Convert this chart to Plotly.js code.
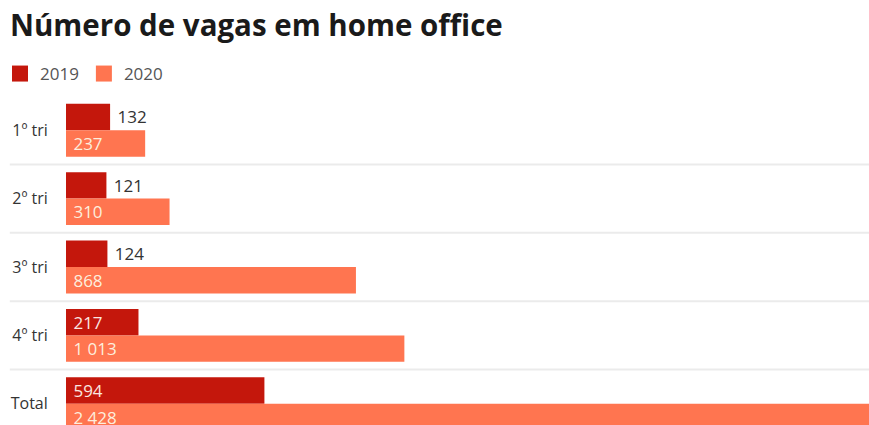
<!DOCTYPE html>
<html><head><meta charset="utf-8">
<script src="https://cdn.plot.ly/plotly-3.0.1.min.js"></script>
<style>html,body{margin:0;padding:0;background:#fff}#chart{width:869px;height:425px}</style>
</head><body><div id="chart"></div>
<script>
const categories = ['1º tri', '2º tri', '3º tri', '4º tri', 'Total'];
const values2019 = [132, 121, 124, 217, 594];
const values2020 = [237, 310, 868, 1013, 2428];
const seriesNames = ['2019', '2020'];
const labelPos2019 = ['outside', 'outside', 'outside', 'inside', 'inside'];

const C2019 = '#c4170c', C2020 = '#ff7550';
const FONT = '"Open Sans", sans-serif';

const barCommon = {
  type: 'bar', orientation: 'h', y: categories,
  texttemplate: '\u00a0%{x:,.0f}', insidetextanchor: 'start', constraintext: 'none',
  textangle: 0, showlegend: false, hoverinfo: 'skip', cliponaxis: true
};
const traces = [
  Object.assign({}, barCommon, {
    name: seriesNames[0], x: values2019, marker: {color: C2019},
    textposition: labelPos2019,
    insidetextfont: {family: FONT, size: 17, color: '#fbe6e0'},
    outsidetextfont: {family: FONT, size: 17, color: '#333333'}
  }),
  Object.assign({}, barCommon, {
    name: seriesNames[1], x: values2020, marker: {color: C2020},
    textposition: 'inside',
    insidetextfont: {family: FONT, size: 17, color: '#fdeedd'}
  }),
  {type: 'scatter', mode: 'markers', x: [null], y: [null], name: seriesNames[0],
   marker: {symbol: 'square', size: 17, color: C2019}, hoverinfo: 'skip'},
  {type: 'scatter', mode: 'markers', x: [null], y: [null], name: seriesNames[1],
   marker: {symbol: 'square', size: 17, color: C2020}, hoverinfo: 'skip'}
];

const shapes = [];
for (let i = 0; i < categories.length - 1; i++) {
  shapes.push({type: 'line', xref: 'paper', x0: -0.07, x1: 1, yref: 'y', y0: i + 0.5, y1: i + 0.5,
    line: {color: '#ebebeb', width: 2}, layer: 'below'});
}

const layout = {
  width: 869, height: 425,
  margin: {l: 66, r: 0, t: 96, b: 0, pad: 0},
  paper_bgcolor: '#ffffff', plot_bgcolor: '#ffffff',
  separators: ', ',
  font: {family: FONT, color: '#333333', size: 16},
  title: {text: 'Número de vagas em home office', xref: 'container', yref: 'container',
    x: 10/869, xanchor: 'left', y: 1 - 26/425, yanchor: 'middle',
    font: {family: FONT, size: 29.5, color: '#1a1a1a', weight: 700}},
  barmode: 'group', bargap: 0.226, bargroupgap: 0,
  showlegend: true,
  legend: {orientation: 'h', xref: 'container', yref: 'container', x: -3/869, y: 1 - 74/425,
    xanchor: 'left', yanchor: 'middle', font: {family: FONT, size: 17, color: '#555555'},
    traceorder: 'normal', itemclick: false, itemdoubleclick: false},
  xaxis: {range: [0, 2404], showgrid: false, zeroline: false, showticklabels: false, ticks: '', fixedrange: true},
  yaxis: {type: 'category', range: [4.31, -0.5], showgrid: false, zeroline: false, ticks: 'outside',
    ticklen: 14, tickcolor: 'rgba(0,0,0,0)', tickfont: {family: FONT, size: 16, color: '#333333'}, fixedrange: true},
  shapes: shapes,
  hovermode: false
};

Plotly.newPlot('chart', traces, layout, {displayModeBar: false, staticPlot: true});
</script></body></html>
